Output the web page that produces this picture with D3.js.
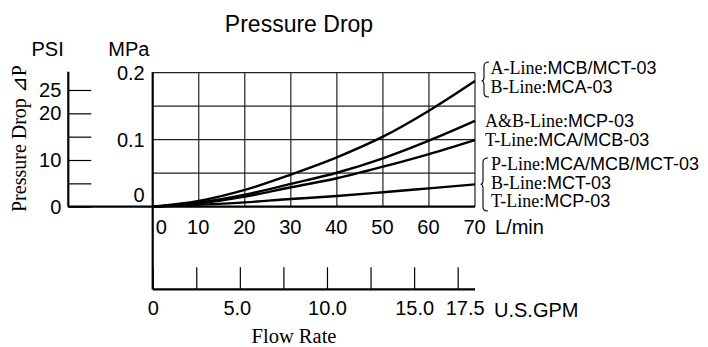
<!DOCTYPE html>
<html><head><meta charset="utf-8">
<script src="https://cdn.jsdelivr.net/npm/d3@7"></script>
<style>
body{margin:0;background:#fff;}
svg{display:block;}
.sans{font-family:"Liberation Sans",Arial,sans-serif;}
.serif{font-family:"Liberation Serif","Times New Roman",serif;}
</style></head>
<body><svg id="c" width="708" height="347"></svg>
<script>
// ---- data ----
const flowLmin = [0, 10, 20, 30, 40, 50, 60, 70];
const curveA = [0, 0.0085, 0.025, 0.048, 0.0737, 0.1045, 0.1433, 0.1876];
const curveB = [0, 0.006, 0.018, 0.034, 0.0507, 0.0722, 0.0985, 0.128];
const curveC = [0, 0.005, 0.015, 0.029, 0.0424, 0.0597, 0.0786, 0.0995];
const curveD = [0, 0.003, 0.0065, 0.0115, 0.016, 0.0215, 0.0274, 0.0334];
const lminTicks = [0, 10, 20, 30, 40, 50, 60, 70];
const gpmTicks = [0, 2.5, 5, 7.5, 10, 12.5, 15, 17.5];
const gpmLabels = {0: "0", 5: "5.0", 10: "10.0", 15: "15.0", 17.5: "17.5"};
const psiTicks = [0, 5, 10, 15, 20, 25];
const psiLabels = {0: "0", 10: "10", 20: "20", 25: "25"};
const mpaGrid = [0.05, 0.1, 0.15, 0.2];
const mpaLabels = [0, 0.1, 0.2];
const legendGroupA = [["A-Line:", "MCB/MCT-03"], ["B-Line:", "MCA-03"]];
const legendGroupB = [["A&B-Line:", "MCP-03"], ["T-Line:", "MCA/MCB-03"]];
const legendGroupC = [["P-Line:", "MCA/MCB/MCT-03"], ["B-Line:", "MCT-03"], ["T-Line:", "MCP-03"]];

// ---- scales ----
const svg = d3.select("#c");
const x = d3.scaleLinear().domain([0, 70]).range([152.7, 475]);
const y = d3.scaleLinear().domain([0, 0.2]).range([206.7, 72.7]);
const yPsi = d3.scaleLinear().domain([0, 28.7]).range([206.7, 72.7]);
const xGpm = d3.scaleLinear().domain([0, 70 / 3.785]).range([152.7, 475]);

// grid
svg.append("g").selectAll("line").data(mpaGrid).join("line")
  .attr("x1", x(0)).attr("x2", x(70)).attr("y1", d => y(d)).attr("y2", d => y(d))
  .attr("stroke", "#222").attr("stroke-width", 1.2);
svg.append("g").selectAll("line").data(lminTicks.slice(1)).join("line")
  .attr("x1", d => x(d)).attr("x2", d => x(d)).attr("y1", y(0)).attr("y2", y(0.2))
  .attr("stroke", "#222").attr("stroke-width", 1.2);

// curves
const line = d3.line().x((d, i) => x(flowLmin[i])).y(d => y(d)).curve(d3.curveMonotoneX);
[curveA, curveB, curveC, curveD].forEach(c => {
  svg.append("path").attr("d", line(c)).attr("fill", "none")
    .attr("stroke", "#000").attr("stroke-width", 2.4);
});

// main axes lines
svg.append("line").attr("x1", 68.3).attr("x2", x(70)).attr("y1", y(0)).attr("y2", y(0))
  .attr("stroke", "#000").attr("stroke-width", 2.2);
svg.append("line").attr("x1", x(0)).attr("x2", x(0)).attr("y1", y(0.2) - 0.5).attr("y2", 289.3)
  .attr("stroke", "#000").attr("stroke-width", 2.2);
svg.append("line").attr("x1", 68.3).attr("x2", 68.3).attr("y1", 71.7).attr("y2", y(0))
  .attr("stroke", "#000").attr("stroke-width", 2.2);

// PSI axis
const psiAxis = d3.axisLeft(yPsi).tickValues(psiTicks).tickSize(-23).tickPadding(7)
  .tickFormat(d => psiLabels[d] || "");
const gP = svg.append("g").attr("transform", "translate(68.3,0)").call(psiAxis);
gP.select(".domain").remove();
gP.selectAll(".tick line").attr("stroke", "#000").attr("stroke-width", 1.2);
gP.selectAll(".tick text").attr("class", "sans").attr("font-size", 20).attr("fill", "#000")
  .attr("font-family", null);

// MPa axis labels
const mpaAxis = d3.axisLeft(y).tickValues(mpaLabels).tickSize(0).tickPadding(8)
  .tickFormat(d => d === 0 ? "0" : d3.format(".1f")(d));
const gM = svg.append("g").attr("transform", `translate(${x(0)},0)`).call(mpaAxis);
gM.select(".domain").remove();
gM.selectAll(".tick text").attr("class", "sans").attr("font-size", 20).attr("fill", "#000")
  .attr("font-family", null)
  .attr("dy", d => d === 0 ? "-0.28em" : "0.32em");

// L/min axis
const lAxis = d3.axisBottom(x).tickValues(lminTicks).tickSize(0).tickPadding(13).tickFormat(d => String(d));
const gL = svg.append("g").attr("transform", `translate(0,${y(0)})`).call(lAxis);
gL.select(".domain").remove();
gL.selectAll(".tick text").attr("class", "sans").attr("font-size", 20).attr("fill", "#000")
  .attr("font-family", null).attr("dx", d => d === 0 ? 8 : -1);
svg.append("text").attr("class", "sans").attr("x", 495).attr("y", 233.5)
  .attr("font-size", 20).text("L/min");

// GPM axis
const gAxis = d3.axisBottom(xGpm).tickValues(gpmTicks).tickSize(-22).tickPadding(12)
  .tickFormat(d => gpmLabels[d] || "");
const gG = svg.append("g").attr("transform", "translate(0,289.3)").call(gAxis);
gG.select(".domain").attr("stroke", "#000").attr("stroke-width", 2.2).attr("d", `M${xGpm(0)},0H${xGpm.range()[1]}`);
gG.selectAll(".tick line").attr("stroke", "#000").attr("stroke-width", 1.2);
gG.selectAll(".tick text").attr("class", "sans").attr("font-size", 20).attr("fill", "#000")
  .attr("font-family", null).attr("dx", d => d === 17.5 ? 7 : (d === 5 ? -3 : 0));
svg.append("text").attr("class", "sans").attr("x", 494).attr("y", 316.7)
  .attr("font-size", 20).text("U.S.GPM");

// titles
svg.append("text").attr("class", "sans").attr("x", 299).attr("y", 31.7)
  .attr("text-anchor", "middle").attr("font-size", 23).text("Pressure Drop");
svg.append("text").attr("class", "sans").attr("x", 31.5).attr("y", 56)
  .attr("font-size", 20).text("PSI");
svg.append("text").attr("class", "sans").attr("x", 108.3).attr("y", 56)
  .attr("font-size", 20).text("MPa");
svg.append("text").attr("class", "serif").attr("transform", "translate(26,138.5) rotate(-90)")
  .attr("text-anchor", "middle").attr("font-size", 20).text("Pressure Drop ⊿P");
svg.append("text").attr("class", "serif").attr("x", 294).attr("y", 342.5)
  .attr("text-anchor", "middle").attr("font-size", 20.5).text("Flow Rate");

// legend
function legendLines(group, x0, baselines) {
  group.forEach((l, i) => {
    const t = svg.append("text").attr("x", x0).attr("y", baselines[i]).attr("font-size", 18);
    t.append("tspan").attr("class", "serif").text(l[0]);
    t.append("tspan").attr("class", "sans").attr("font-size", 18).text(l[1]);
  });
}
legendLines(legendGroupA, 490.5, [74.3, 92.7]);
legendLines(legendGroupB, 485, [126.5, 145.5]);
legendLines(legendGroupC, 491, [170.2, 188.5, 206.8]);

function brace(x0, y0, y1, ym) {
  const w = 5;
  const p = `M${x0 + w},${y0} Q${x0},${y0} ${x0},${y0 + 4} L${x0},${ym - 4} Q${x0},${ym} ${x0 - 2.5},${ym}` +
            ` Q${x0},${ym} ${x0},${ym + 4} L${x0},${y1 - 4} Q${x0},${y1} ${x0 + w},${y1}`;
  svg.append("path").attr("d", p).attr("fill", "none").attr("stroke", "#000").attr("stroke-width", 1.1);
}
brace(484, 62, 97, y(curveA[7]));
brace(483, 158, 211, y(curveD[7]));
</script></body></html>
